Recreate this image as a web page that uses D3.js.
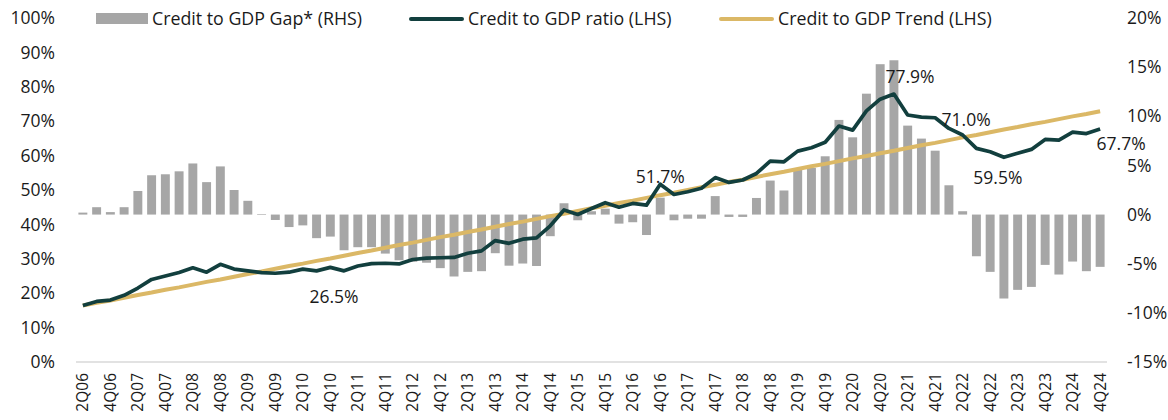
<!DOCTYPE html>
<html>
<head>
<meta charset="utf-8">
<script src="https://cdn.jsdelivr.net/npm/d3@7"></script>
<style>
  body { margin: 0; background: #fff; }
  text { font-family: "Open Sans", "Noto Sans", sans-serif; fill: #1a1a1a; }
</style>
</head>
<body>
<div id="d3-container"></div>
<script>
/**
 * CONSTANTS AND GLOBALS
 * */
const width = 1168,
  height = 420,
  margin = { top: 18, bottom: 58, left: 76, right: 61 };

// quarters 2Q06 .. 4Q24
const quarters = [];
for (let y = 2006; y <= 2024; y++) {
  for (let q = 1; q <= 4; q++) {
    if (y === 2006 && q === 1) continue;
    quarters.push(q + "Q" + String(y).slice(2));
  }
}

// Credit to GDP ratio (LHS, %)
const ratio = [
  16.4, 17.6, 18.0, 19.4, 21.5, 24.0, 25.0, 26.0, 27.4, 26.1,
  28.4, 27.0, 26.5, 26.0, 25.8, 26.1, 27.0, 26.5, 27.5, 26.5,
  27.9, 28.6, 28.7, 28.5, 29.8, 30.2, 30.3, 30.4, 31.6, 32.3,
  35.3, 34.5, 35.7, 36.1, 39.6, 44.2, 42.9, 44.6, 46.3, 45.0,
  46.1, 45.6, 51.7, 48.7, 49.5, 50.5, 53.6, 52.2, 52.9, 54.8,
  58.4, 58.2, 61.3, 62.3, 63.9, 68.6, 67.4, 73.0, 76.4, 77.9,
  71.8, 71.2, 71.0, 67.9, 66.0, 62.1, 61.1, 59.5, 60.7, 61.8,
  64.7, 64.5, 66.8, 66.4, 67.7
];

// Credit to GDP trend (LHS, %)
const trend = [
  16.4, 17.2, 17.9, 18.7, 19.5, 20.2, 21.0, 21.7, 22.5, 23.3,
  24.0, 24.8, 25.6, 26.3, 27.1, 27.9, 28.6, 29.4, 30.1, 30.9,
  31.7, 32.4, 33.2, 34.0, 34.7, 35.5, 36.3, 37.0, 37.8, 38.5,
  39.3, 40.1, 40.8, 41.6, 42.4, 43.1, 43.9, 44.7, 45.4, 46.2,
  46.9, 47.7, 48.5, 49.2, 50.0, 50.8, 51.5, 52.3, 53.0, 53.8,
  54.6, 55.3, 56.1, 56.9, 57.6, 58.4, 59.2, 59.9, 60.7, 61.4,
  62.2, 63.0, 63.7, 64.5, 65.3, 66.0, 66.8, 67.6, 68.3, 69.1,
  69.8, 70.6, 71.4, 72.1, 72.9
];

// Credit to GDP gap (RHS, pp)
const gap = [
  0.2, 0.75, 0.25, 0.75, 2.4, 4.0, 4.1, 4.4, 5.2, 3.3,
  4.9, 2.5, 1.4, 0.05, -0.55, -1.27, -1.1, -2.4, -2.24, -3.63,
  -3.32, -3.32, -3.97, -4.65, -4.8, -4.9, -5.45, -6.3, -5.83, -5.76,
  -3.93, -5.2, -4.98, -5.23, -2.2, 1.15, -0.58, 0.34, 0.6, -0.92,
  -0.78, -2.08, 1.72, -0.58, -0.42, -0.42, 1.88, -0.24, -0.24, 1.69,
  3.46, 2.45, 4.55, 4.75, 5.93, 9.63, 7.86, 12.3, 15.3, 15.7,
  9.05, 7.73, 6.5, 2.98, 0.34, -4.24, -5.83, -8.54, -7.66, -7.36,
  -5.12, -6.1, -4.78, -5.76, -5.32
];

const leftTicks = [0, 10, 20, 30, 40, 50, 60, 70, 80, 90, 100];
const rightTicks = [-15, -10, -5, 0, 5, 10, 15, 20];

// labelled points on the ratio line (index into quarters)
const labelIdx = [19, 42, 59, 62, 67, 74];
const labelOffset = [[-10, 32], [0, -1], [16, -11], [31, 8], [-6, 27], [21, 21]];

const colors = { gap: "#a6a6a6", ratio: "#123f3e", trend: "#dbb866" };

/**
 * SCALES
 * */
const x = d3.scaleBand()
  .domain(quarters)
  .range([margin.left, width - margin.right])
  .paddingInner(0.35)
  .paddingOuter(0.175);

const yL = d3.scaleLinear().domain([0, 100]).range([height - margin.bottom, margin.top]);
const yR = d3.scaleLinear().domain([-15, 20]).range([height - margin.bottom, margin.top]);

const cx = i => x(quarters[i]) + x.bandwidth() / 2;

const svg = d3.select("#d3-container")
  .append("svg")
  .attr("width", width)
  .attr("height", height);

// gap bars
svg.append("g")
  .selectAll("rect")
  .data(gap)
  .join("rect")
  .attr("x", (d, i) => x(quarters[i]))
  .attr("width", x.bandwidth())
  .attr("y", d => yR(Math.max(0, d)))
  .attr("height", d => Math.max(0.6, Math.abs(yR(d) - yR(0))))
  .attr("fill", colors.gap);

// bottom axis line
svg.append("line")
  .attr("x1", margin.left)
  .attr("x2", width - margin.right)
  .attr("y1", yL(0))
  .attr("y2", yL(0))
  .attr("stroke", "#d9d9d9")
  .attr("stroke-width", 1.5);

// lines
const line = d3.line().x((d, i) => cx(i)).y(d => yL(d));

svg.append("path")
  .datum(trend)
  .attr("d", line)
  .attr("fill", "none")
  .attr("stroke", colors.trend)
  .attr("stroke-width", 4);

svg.append("path")
  .datum(ratio)
  .attr("d", line)
  .attr("fill", "none")
  .attr("stroke", colors.ratio)
  .attr("stroke-width", 3.7)
  .attr("stroke-linejoin", "round");

// data labels
svg.append("g")
  .selectAll("text")
  .data(labelIdx)
  .join("text")
  .attr("x", (d, k) => cx(d) + labelOffset[k][0])
  .attr("y", (d, k) => yL(ratio[d]) + labelOffset[k][1])
  .attr("text-anchor", "middle")
  .attr("font-size", 17.5)
  .text(d => ratio[d].toFixed(1) + "%");

// left axis
svg.append("g")
  .selectAll("text")
  .data(leftTicks)
  .join("text")
  .attr("x", 55)
  .attr("y", d => yL(d))
  .attr("dy", "0.35em")
  .attr("text-anchor", "end")
  .attr("font-size", 17.5)
  .text(d => d + "%");

// right axis
svg.append("g")
  .selectAll("text")
  .data(rightTicks)
  .join("text")
  .attr("x", 1127)
  .attr("y", d => yR(d))
  .attr("dy", "0.35em")
  .attr("font-size", 17.5)
  .text(d => d + "%");

// x tick labels, every other quarter
svg.append("g")
  .selectAll("text")
  .data(quarters.filter((d, i) => i % 2 === 0))
  .join("text")
  .attr("transform", d => `translate(${x(d) + x.bandwidth() / 2 + 5.5},373) rotate(-90)`)
  .attr("text-anchor", "end")
  .attr("font-size", 15.5)
  .text(d => d);

// legend
const legend = svg.append("g");
legend.append("rect")
  .attr("x", 96).attr("y", 13).attr("width", 52).attr("height", 11)
  .attr("fill", colors.gap);
legend.append("text").attr("x", 152).attr("y", 25).attr("font-size", 17.8)
  .text("Credit to GDP Gap* (RHS)");

legend.append("line")
  .attr("x1", 411).attr("x2", 462).attr("y1", 19).attr("y2", 19)
  .attr("stroke", colors.ratio).attr("stroke-width", 4).attr("stroke-linecap", "round");
legend.append("text").attr("x", 468).attr("y", 25).attr("font-size", 17.8)
  .text("Credit to GDP ratio (LHS)");

legend.append("line")
  .attr("x1", 721).attr("x2", 772).attr("y1", 19).attr("y2", 19)
  .attr("stroke", colors.trend).attr("stroke-width", 4).attr("stroke-linecap", "round");
legend.append("text").attr("x", 778).attr("y", 25).attr("font-size", 17.8)
  .text("Credit to GDP Trend (LHS)");
</script>
</body>
</html>
